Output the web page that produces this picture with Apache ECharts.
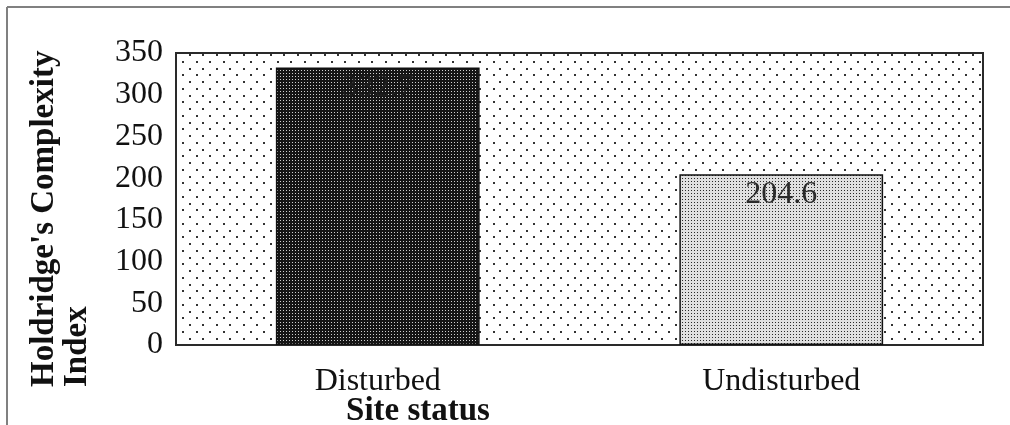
<!DOCTYPE html>
<html>
<head>
<meta charset="utf-8">
<script src="https://cdn.jsdelivr.net/npm/echarts@6/dist/echarts.min.js"></script>
<style>
  html, body { margin: 0; padding: 0; background: #fff; }
  #chart { width: 1010px; height: 425px; }
</style>
</head>
<body>
<div id="chart"></div>
<script>
// Site categories and Holdridge's Complexity Index values
const categories = ['Disturbed', 'Undisturbed'];
const complexityIndex = [332.7, 204.6];
const yTicks = { min: 0, max: 350, interval: 50 };

const SERIF = '"Liberation Serif", "DejaVu Serif", serif';

// Small canvas tiles used as fill patterns
function makeTile(w, h, bg, dotColor, dots, size) {
  const c = document.createElement('canvas');
  c.width = w; c.height = h;
  const g = c.getContext('2d');
  g.fillStyle = bg;
  g.fillRect(0, 0, w, h);
  g.fillStyle = dotColor;
  dots.forEach(([x, y]) => g.fillRect(x, y, size, size));
  return c;
}

// plot background: sparse staggered dots
const bgTile = makeTile(27, 27, '#ffffff', '#333333',
  [[0, 0], [13, 0], [7, 7], [20, 7], [0, 14], [13, 14], [7, 20], [20, 20]], 2);
// dark bar: black with fine light dots
const darkTile = makeTile(3, 3, '#151515', '#d0d0d0', [[1, 1]], 1);
// light bar: pale grey with fine dark dots
const lightTile = makeTile(3, 3, '#e0e0e0', '#2a2a2a', [[1, 1]], 1);

const barFills = [darkTile, lightTile];
const labelColors = ['#1e1e1e', '#2a2a2a'];

const chart = echarts.init(document.getElementById('chart'));
chart.setOption({
  animation: false,
  grid: {
    left: 176, top: 53, right: 27, bottom: 80,
    outerBoundsMode: 'none',
    show: true,
    backgroundColor: { image: bgTile, repeat: 'repeat' },
    borderColor: '#2a2a2a',
    borderWidth: 2
  },
  xAxis: {
    type: 'category',
    data: categories,
    axisLine: { show: false },
    axisTick: { show: false },
    axisLabel: { color: '#111', fontFamily: SERIF, fontSize: 32, margin: 21 }
  },
  yAxis: {
    type: 'value',
    min: yTicks.min, max: yTicks.max, interval: yTicks.interval,
    axisLine: { show: false },
    axisTick: { show: false },
    splitLine: { show: false },
    axisLabel: {
      color: '#111', fontFamily: SERIF, fontSize: 32, margin: 13,
      padding: [6, 0, 0, 0]
    }
  },
  series: [{
    type: 'bar',
    barWidth: '50.5%',
    data: complexityIndex.map((v, i) => ({
      value: v,
      itemStyle: { color: { image: barFills[i], repeat: 'repeat' } },
      label: { color: labelColors[i] }
    })),
    itemStyle: { borderColor: '#111', borderWidth: 1.5 },
    label: {
      show: true,
      position: 'insideTop',
      distance: 4,
      fontFamily: SERIF,
      fontSize: 32
    }
  }],
  graphic: [
    // outer frame (top and left edges)
    { type: 'line', shape: { x1: 7, y1: 7, x2: 1010, y2: 7 }, style: { stroke: '#808080', lineWidth: 2 } },
    { type: 'line', shape: { x1: 7, y1: 7, x2: 7, y2: 425 }, style: { stroke: '#808080', lineWidth: 2 } },
    // y-axis title, rotated
    {
      type: 'text', x: 28, y: 387, rotation: Math.PI / 2,
      style: {
        text: "Holdridge's Complexity\nIndex",
        font: 'bold 33px ' + SERIF,
        fill: '#111',
        textAlign: 'left', textVerticalAlign: 'top',
        lineHeight: 33
      }
    },
    // x-axis title
    {
      type: 'text', x: 418, y: 395,
      style: {
        text: 'Site status',
        font: 'bold 33px ' + SERIF,
        fill: '#111',
        textAlign: 'center', textVerticalAlign: 'top'
      }
    }
  ]
});
</script>
</body>
</html>
